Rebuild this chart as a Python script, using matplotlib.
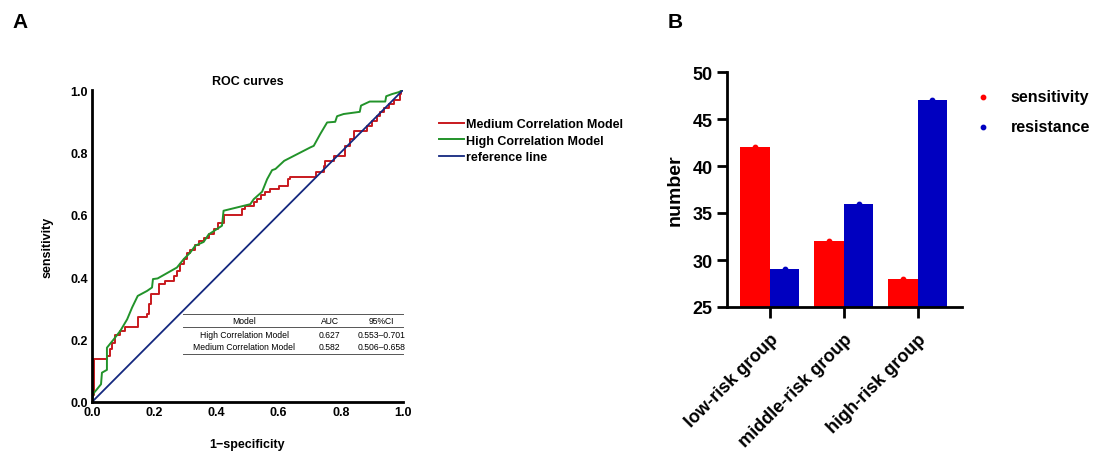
import matplotlib.pyplot as plt
import numpy as np

plt.rcParams["font.family"] = ["Liberation Sans", "DejaVu Sans"]
plt.rcParams["font.weight"] = "bold"

# ROC data
medium_fpr = [0, 0, 0.0075, 0.048, 0.057, 0.064, 0.075, 0.091, 0.107, 0.147,
              0.177, 0.182, 0.191, 0.214, 0.236, 0.263, 0.273, 0.284, 0.295, 0.305,
              0.316, 0.332, 0.343, 0.359, 0.375, 0.391, 0.404, 0.426, 0.482, 0.493,
              0.52, 0.531, 0.543, 0.557, 0.571, 0.6, 0.629, 0.638, 0.721, 0.745,
              0.75, 0.777, 0.815, 0.829, 0.841, 0.884, 0.9, 0.916, 0.927, 0.94,
              0.954, 0.97, 0.989, 0.994, 1.0]
medium_tpr = [0, 0.021, 0.139, 0.148, 0.171, 0.19, 0.214, 0.228, 0.239, 0.271,
              0.281, 0.313, 0.345, 0.378, 0.388, 0.404, 0.42, 0.442, 0.458, 0.477,
              0.488, 0.503, 0.517, 0.527, 0.538, 0.554, 0.573, 0.599, 0.618, 0.627,
              0.64, 0.65, 0.663, 0.674, 0.682, 0.693, 0.714, 0.722, 0.736, 0.755,
              0.772, 0.789, 0.821, 0.843, 0.867, 0.886, 0.902, 0.916, 0.928, 0.941,
              0.955, 0.969, 0.987, 1.0, 1.0]

high_fpr = [0, 0.005, 0.016, 0.029, 0.032, 0.048, 0.048, 0.07, 0.091, 0.113,
            0.129, 0.147, 0.177, 0.193, 0.196, 0.211, 0.273, 0.295, 0.316, 0.332,
            0.359, 0.375, 0.418, 0.423, 0.509, 0.52, 0.547, 0.563, 0.579, 0.59,
            0.618, 0.702, 0.713, 0.734, 0.756, 0.782, 0.788, 0.809, 0.861, 0.865,
            0.893, 0.943, 0.946, 0.965, 0.986, 1.0]
high_tpr = [0, 0.028, 0.041, 0.057, 0.094, 0.103, 0.174, 0.201, 0.228, 0.265,
            0.303, 0.34, 0.356, 0.367, 0.394, 0.396, 0.431, 0.458, 0.479, 0.501,
            0.513, 0.537, 0.565, 0.613, 0.634, 0.65, 0.674, 0.714, 0.743, 0.747,
            0.773, 0.816, 0.821, 0.859, 0.896, 0.898, 0.916, 0.923, 0.93, 0.95,
            0.963, 0.963, 0.98, 0.987, 0.993, 1.0]

table_models = ["High Correlation Model", "Medium Correlation Model"]
table_auc = ["0.627", "0.582"]
table_ci = ["0.553\u20130.701", "0.506\u20130.658"]

# bar data
groups = ["low-risk group", "middle-risk group", "high-risk group"]
sensitivity = [42, 32, 28]
resistance = [29, 36, 47]

red = "#C8191E"
green = "#22932A"
navy = "#14287F"

fig = plt.figure(figsize=(10.96, 4.52), dpi=100)

# ---------- A: ROC ----------
ax = fig.add_axes([92 / 1096, 49 / 452, 311 / 1096, 312 / 452])
ax.plot(medium_fpr, medium_tpr, color=red, lw=1.4, drawstyle="steps-post",
        label="Medium Correlation Model")
ax.plot(high_fpr, high_tpr, color=green, lw=1.4, label="High Correlation Model")
ax.plot([0, 1], [0, 1], color=navy, lw=1.3, label="reference line")
ax.set_xlim(0, 1)
ax.set_ylim(0, 1)
ax.set_xticks(np.arange(0, 1.01, 0.2))
ax.set_yticks(np.arange(0, 1.01, 0.2))
ax.xaxis.set_major_formatter(plt.FormatStrFormatter("%.1f"))
ax.yaxis.set_major_formatter(plt.FormatStrFormatter("%.1f"))
ax.tick_params(length=0, labelsize=9, pad=3)
for s in ["top", "right"]:
    ax.spines[s].set_visible(False)
for s in ["left", "bottom"]:
    ax.spines[s].set_linewidth(2)
ax.set_title("ROC curves", fontsize=9, fontweight="bold", pad=4)
ax.set_xlabel("1\u2212specificity", fontsize=9, fontweight="bold", labelpad=14)
ax.set_ylabel("sensitivity", fontsize=9, fontweight="bold", labelpad=12)
ax.legend(loc="upper left", bbox_to_anchor=(1.1, 0.925), frameon=False,
          fontsize=9, handlelength=2.0, handletextpad=0.12, labelspacing=0.35,
          borderaxespad=0)

# little table inside the plot
tr = ax.transAxes
for yl in [0.282, 0.240, 0.154]:
    ax.plot([0.293, 1.0], [yl, yl], color="#555555", lw=0.7, transform=tr,
            clip_on=False)
col_x = [0.49, 0.765, 0.93]
for cx, h in zip(col_x, ["Model", "AUC", "95%CI"]):
    ax.text(cx, 0.261, h, transform=tr, ha="center", va="center",
            fontsize=6.2, fontweight="normal")
for i in range(len(table_models)):
    yy = 0.217 - i * 0.039
    ax.text(col_x[0], yy, table_models[i], transform=tr, ha="center",
            va="center", fontsize=6.2, fontweight="normal")
    ax.text(col_x[1], yy, table_auc[i], transform=tr, ha="center",
            va="center", fontsize=6.2, fontweight="normal")
    ax.text(col_x[2], yy, table_ci[i], transform=tr, ha="center",
            va="center", fontsize=6.2, fontweight="normal")

# ---------- B: bars ----------
bx = fig.add_axes([727 / 1096, 144 / 452, 235 / 1096, 235 / 452])
x = np.arange(len(groups))
w = 0.4
sens_color = "#FF0000"
res_color = "#0000C0"
bx.bar(x - w / 2, sensitivity, width=w, color=sens_color, bottom=0)
bx.bar(x + w / 2, resistance, width=w, color=res_color, bottom=0)
bx.scatter(x - w / 2, sensitivity, s=10, color=sens_color, zorder=3,
           label="sensitivity")
bx.scatter(x + w / 2, resistance, s=10, color=res_color, zorder=3,
           label="resistance")
bx.set_ylim(25, 50)
bx.set_xlim(-0.58, 2.6)
bx.set_yticks([25, 30, 35, 40, 45, 50])
bx.set_xticks(x)
bx.set_xticklabels(groups, rotation=45, ha="right", rotation_mode="anchor",
                   fontsize=13, fontweight="bold")
bx.tick_params(axis="y", labelsize=13, width=2, length=7)
bx.tick_params(axis="x", width=2, length=8, pad=9)
for s in ["top", "right"]:
    bx.spines[s].set_visible(False)
for s in ["left", "bottom"]:
    bx.spines[s].set_linewidth(2)
bx.set_ylabel("number", fontsize=14, fontweight="bold", labelpad=6)
bx.legend(loc="upper left", bbox_to_anchor=(1.03, 0.953), frameon=False,
          fontsize=11.5, handlelength=1.0, handletextpad=1.2, labelspacing=0.9,
          borderaxespad=0)

fig.text(12 / 1096, 1 - 22 / 452, "A", fontsize=15, fontweight="bold",
         va="center")
fig.text(668 / 1096, 1 - 22 / 452, "B", fontsize=15, fontweight="bold",
         va="center")

fig.savefig("out.png", dpi=100)
